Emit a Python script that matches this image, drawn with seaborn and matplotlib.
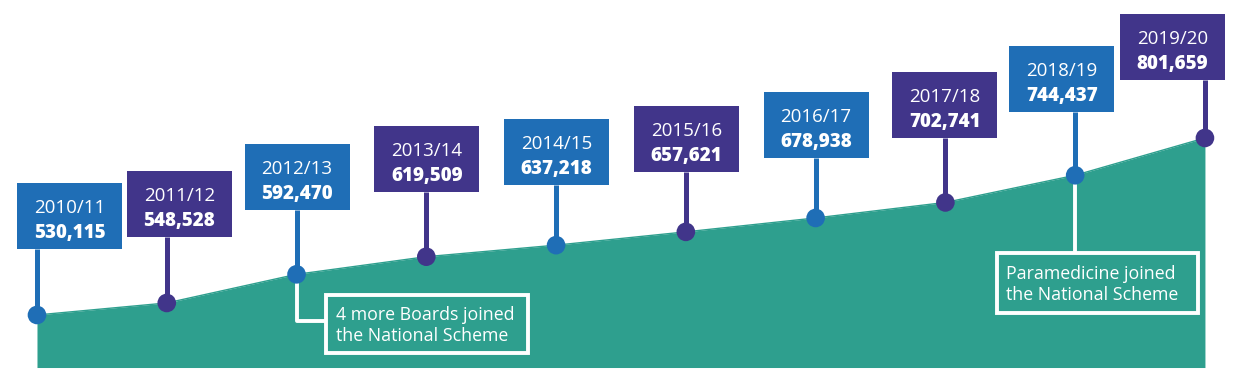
import matplotlib
matplotlib.use("Agg")
import matplotlib.pyplot as plt
import matplotlib.transforms as mtransforms
from matplotlib.patches import Rectangle
from matplotlib.lines import Line2D
import seaborn as sns
import pandas as pd

# ---- data ----
years = ["2010/11", "2011/12", "2012/13", "2013/14", "2014/15",
         "2015/16", "2016/17", "2017/18", "2018/19", "2019/20"]
registrants = [530115, 548528, 592470, 619509, 637218,
               657621, 678938, 702741, 744437, 801659]
value_labels = ["530,115", "548,528", "592,470", "619,509", "637,218",
                "657,621", "678,938", "702,741", "744,437", "801,659"]
notes = {"2012/13": "4 more Boards joined\nthe National Scheme",
         "2018/19": "Paramedicine joined\nthe National Scheme"}

# ---- layout (pixel offsets of the label boxes relative to each point) ----
box_left = [-20, -40, -52, -52, -52, -52, -52, -53, -66, -85]
stem_len = [66, 66, 64, 65, 60, 60, 60, 64, 63, 58]
BOX_W, BOX_H = 105, 66

# ---- style ----
BLUE = "#1f6eb6"
PURPLE = "#41358a"
TEAL = "#2e9f8e"
sns.set_theme(style="white")
plt.rcParams["font.family"] = ["Open Sans", "DejaVu Sans"]

W, H, DPI = 1237, 370, 100
fig = plt.figure(figsize=(W / DPI, H / DPI), dpi=DPI)
ax = fig.add_axes([0, 0, 1, 1])
ax.set_axis_off()

x = list(range(len(years)))
df = pd.DataFrame({"x": x, "year": years, "value": registrants,
                   "kind": ["a" if i % 2 == 0 else "b" for i in x]})

ax.set_xlim(-0.285, 9.247)
ax.set_ylim(445700, 1013300)
base = 449500

ax.fill_between(df["x"], df["value"], base, color=TEAL, lw=0, zorder=1)
sns.lineplot(data=df, x="x", y="value", color=TEAL, lw=1, ax=ax, zorder=2)


def px_trans(xi, vi):
    return mtransforms.Affine2D() + mtransforms.ScaledTranslation(xi, vi, ax.transData)


for i, row in df.iterrows():
    col = BLUE if row["kind"] == "a" else PURPLE
    t = px_trans(row["x"], row["value"])
    s = stem_len[i]
    bl = box_left[i]
    ax.add_line(Line2D([0, 0], [0, s], color=col, lw=3.6, transform=t, zorder=3,
                       solid_capstyle="butt"))
    ax.add_patch(Rectangle((bl, s), BOX_W, BOX_H, facecolor=col,
                           edgecolor="none", transform=t, zorder=4))
    cx = bl + BOX_W / 2
    ax.text(cx, s + 36, row["year"], color="white", fontsize=13.5, ha="center",
            va="baseline", transform=t, zorder=5)
    ax.text(cx, s + 11, value_labels[i], color="white", fontsize=13.5,
            fontweight="heavy", ha="center", va="baseline", transform=t, zorder=5)

sns.scatterplot(data=df, x="x", y="value", hue="kind",
                palette={"a": BLUE, "b": PURPLE}, s=180, linewidth=0,
                legend=False, ax=ax, zorder=6)

# annotation 1 (2012/13)
i1 = years.index("2012/13")
t1 = px_trans(i1, registrants[i1])
ax.add_line(Line2D([0, 0, 29], [-8, -47, -47], color="white", lw=2.8,
                   transform=t1, zorder=2))
ax.add_patch(Rectangle((29, -79), 202, 58, facecolor=TEAL, edgecolor="white",
                       lw=2.8, transform=t1, zorder=2))
ax.text(39, -51, notes["2012/13"], color="white", fontsize=12.8, ha="left",
        va="center", linespacing=1.2, transform=t1, zorder=3)

# annotation 2 (2018/19)
i2 = years.index("2018/19")
t2 = px_trans(i2, registrants[i2])
ax.add_line(Line2D([0, 0], [-8, -78], color="white", lw=2.8,
                   transform=t2, zorder=2))
ax.add_patch(Rectangle((-78, -138), 201, 60, facecolor=TEAL, edgecolor="white",
                       lw=2.8, transform=t2, zorder=2))
ax.text(-69, -109, notes["2018/19"], color="white", fontsize=12.8, ha="left",
        va="center", linespacing=1.2, transform=t2, zorder=3)

fig.savefig("out.png", dpi=DPI, facecolor="white")
